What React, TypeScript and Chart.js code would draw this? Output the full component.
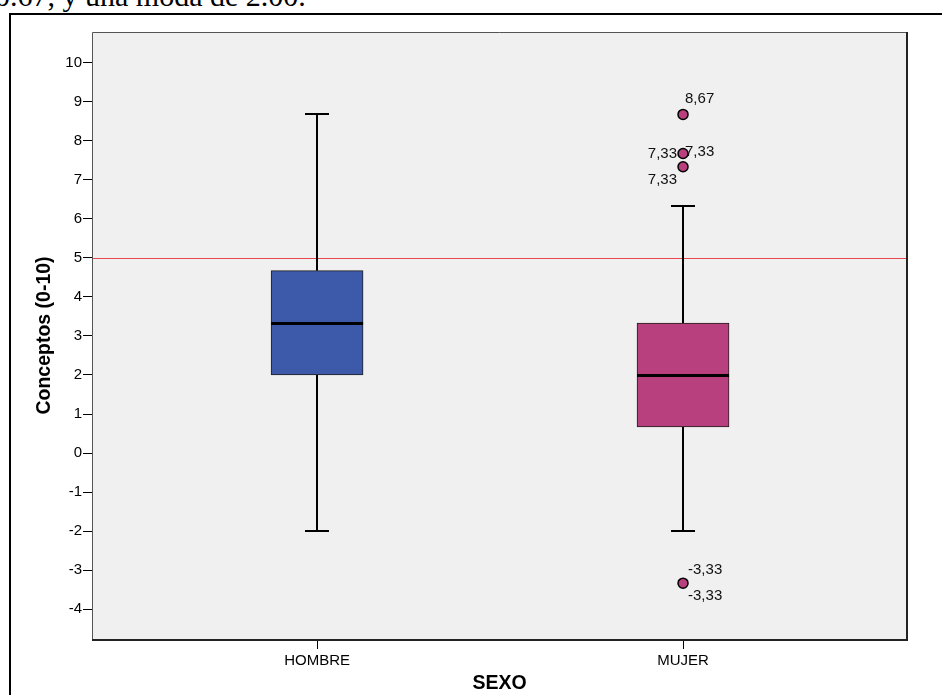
import React, { useEffect, useRef } from "react";
import { Chart, registerables } from "chart.js";

Chart.register(...registerables);

// ---- data ----
const categories = ["HOMBRE", "MUJER"];
const whiskerLow = [-2, -2];
const q1 = [2, 0.67];
const median = [3.33, 2];
const q3 = [4.67, 3.33];
const whiskerHigh = [8.67, 6.33];
const boxColors = ["#3d59a9", "#b9407e"];

const outlierCategory = [1, 1, 1, 1];
const outlierValues = [8.67, 7.67, 7.33, -3.33];
const outlierLabels = [["8,67"], ["7,33", "7,33"], ["7,33"], ["-3,33", "-3,33"]];

const referenceValue = 5;
const yTicks = [-4, -3, -2, -1, 0, 1, 2, 3, 4, 5, 6, 7, 8, 9, 10];
const yMin = -4.76;
const yMax = 10.78;
const xMin = -0.615;
const xMax = 1.612;

const yTitle = "Conceptos (0-10)";
const xTitle = "SEXO";
const topText = "0.67, y una moda de 2.00.";

// ---- styles (label placement relative to each outlier point) ----
const labelPlacement = [
  [{ dx: 2, dy: -16, align: "left" }],
  [
    { dx: -6, dy: 0, align: "right" },
    { dx: 2, dy: -2, align: "left" },
  ],
  [{ dx: -6, dy: 13, align: "right" }],
  [
    { dx: 5, dy: -13, align: "left" },
    { dx: 5, dy: 13, align: "left" },
  ],
];

const SANS = '"Liberation Sans", Arial, Helvetica, sans-serif';
const BOX_W = 92;
const CAP_W = 24;

const boxPlugin = {
  id: "boxExtras",
  beforeDraw(chart: any) {
    const { ctx, chartArea: a } = chart;
    ctx.save();
    ctx.fillStyle = "#f0f0f0";
    ctx.fillRect(a.left, a.top, a.right - a.left, a.bottom - a.top);
    ctx.restore();
  },
  beforeDatasetsDraw(chart: any) {
    const { ctx, chartArea: a, scales } = chart;
    const x = scales.x;
    const y = scales.y;
    ctx.save();
    // reference line
    const ry = Math.round(y.getPixelForValue(referenceValue)) + 0.5;
    ctx.strokeStyle = "#e8474f";
    ctx.lineWidth = 1.2;
    ctx.beginPath();
    ctx.moveTo(a.left, ry);
    ctx.lineTo(a.right, ry);
    ctx.stroke();
    // whiskers
    ctx.strokeStyle = "#000";
    ctx.lineWidth = 2;
    categories.forEach((_, i) => {
      const cx = Math.round(x.getPixelForValue(i));
      const yl = Math.round(y.getPixelForValue(whiskerLow[i]));
      const yh = Math.round(y.getPixelForValue(whiskerHigh[i]));
      const y1 = y.getPixelForValue(q1[i]);
      const y3 = y.getPixelForValue(q3[i]);
      ctx.beginPath();
      ctx.moveTo(cx, y1);
      ctx.lineTo(cx, yl);
      ctx.moveTo(cx, y3);
      ctx.lineTo(cx, yh);
      ctx.moveTo(cx - CAP_W / 2, yl);
      ctx.lineTo(cx + CAP_W / 2, yl);
      ctx.moveTo(cx - CAP_W / 2, yh);
      ctx.lineTo(cx + CAP_W / 2, yh);
      ctx.stroke();
    });
    ctx.restore();
  },
  afterDatasetsDraw(chart: any) {
    const { ctx, chartArea: a, scales } = chart;
    const x = scales.x;
    const y = scales.y;
    ctx.save();
    // medians
    ctx.strokeStyle = "#000";
    ctx.lineWidth = 3;
    categories.forEach((_, i) => {
      const cx = x.getPixelForValue(i);
      const my = Math.round(y.getPixelForValue(median[i])) + 0.5;
      ctx.beginPath();
      ctx.moveTo(cx - BOX_W / 2, my);
      ctx.lineTo(cx + BOX_W / 2, my);
      ctx.stroke();
    });
    // outlier labels
    ctx.fillStyle = "#111";
    ctx.font = `15px ${SANS}`;
    ctx.textBaseline = "middle";
    outlierValues.forEach((v, i) => {
      const px = x.getPixelForValue(outlierCategory[i]);
      const py = y.getPixelForValue(v);
      outlierLabels[i].forEach((t, j) => {
        const p = labelPlacement[i][j];
        ctx.textAlign = p.align;
        ctx.fillText(t, px + p.dx, py + p.dy);
      });
    });
    // plot frame
    ctx.strokeStyle = "#555";
    ctx.lineWidth = 1;
    ctx.beginPath();
    ctx.moveTo(a.left + 0.5, a.bottom);
    ctx.lineTo(a.left + 0.5, a.top + 0.5);
    ctx.lineTo(a.right, a.top + 0.5);
    ctx.stroke();
    ctx.fillStyle = "#222";
    ctx.fillRect(a.right - 1, a.top, 2, a.bottom - a.top + 2);
    ctx.fillRect(a.left, a.bottom, a.right - a.left + 1, 2);
    ctx.restore();
  },
};

export default function App() {
  const canvasRef = useRef<HTMLCanvasElement | null>(null);

  useEffect(() => {
    const canvas = canvasRef.current;
    if (!canvas) return;
    const chart = new Chart(canvas, {
      type: "bar",
      data: {
        datasets: [
          {
            type: "bar",
            data: categories.map((_, i) => ({ x: i, y: [q1[i], q3[i]] })) as any,
            backgroundColor: boxColors,
            borderColor: "#1e1e1e",
            borderWidth: 1,
            borderSkipped: false,
            barThickness: BOX_W,
          } as any,
          {
            type: "scatter",
            data: outlierValues.map((v, i) => ({ x: outlierCategory[i], y: v })),
            backgroundColor: outlierCategory.map((c) => boxColors[c]),
            borderColor: "#000",
            borderWidth: 1.5,
            pointRadius: 5,
            showLine: false,
          } as any,
        ],
      },
      options: {
        responsive: false,
        animation: false,
        devicePixelRatio: 1,
        events: [],
        layout: { padding: { left: 28, top: 32, right: 35, bottom: 0 } },
        plugins: {
          legend: { display: false },
          tooltip: { enabled: false },
        },
        scales: {
          x: {
            type: "linear",
            min: xMin,
            max: xMax,
            offset: false,
            afterBuildTicks: (scale: any) => {
              scale.ticks = categories.map((_, i) => ({ value: i }));
            },
            afterFit: (scale: any) => {
              scale.height = 56;
            },
            grid: {
              offset: false,
              drawOnChartArea: false,
              drawTicks: true,
              tickLength: 10,
              color: "#000",
              lineWidth: 1,
            },
            border: { display: false },
            ticks: {
              color: "#000",
              padding: 3,
              font: { family: SANS, size: 15 },
              maxRotation: 0,
              callback: (v: any) => categories[Number(v)] ?? "",
            },
            title: {
              display: true,
              text: xTitle,
              color: "#000",
              font: { family: SANS, size: 19.5, weight: "bold" },
              padding: { top: 0, bottom: 0 },
            },
          },
          y: {
            type: "linear",
            min: yMin,
            max: yMax,
            afterBuildTicks: (scale: any) => {
              scale.ticks = yTicks.map((v) => ({ value: v }));
            },
            afterFit: (scale: any) => {
              scale.width = 64;
            },
            grid: {
              drawOnChartArea: false,
              drawTicks: true,
              tickLength: 9,
              color: "#000",
              lineWidth: 1,
            },
            border: { display: false },
            ticks: {
              color: "#000",
              padding: 1,
              font: { family: SANS, size: 15 },
              callback: (v: any) => String(v),
            },
            title: {
              display: true,
              text: yTitle,
              color: "#000",
              font: { family: SANS, size: 19.5, weight: "bold" },
              padding: { top: 5, bottom: 0 },
            },
          },
        },
      } as any,
      plugins: [boxPlugin as any],
    });
    return () => chart.destroy();
  }, []);

  return (
    <div
      style={{
        position: "fixed",
        left: 0,
        top: 0,
        width: 942,
        height: 695,
        overflow: "hidden",
        background: "#fff",
      }}
    >
      <div
        style={{
          position: "absolute",
          left: -5,
          top: -19,
          fontFamily: '"Liberation Serif", "Times New Roman", serif',
          fontSize: 30,
          lineHeight: "30px",
          whiteSpace: "nowrap",
          color: "#000",
        }}
      >
        {topText}
      </div>
      <div
        style={{
          position: "absolute",
          left: 9,
          top: 13,
          width: 1100,
          height: 1000,
          border: "2px solid #000",
        }}
      />
      <canvas
        ref={canvasRef}
        width={942}
        height={695}
        style={{ position: "absolute", left: 0, top: 0, display: "block" }}
      />
    </div>
  );
}
